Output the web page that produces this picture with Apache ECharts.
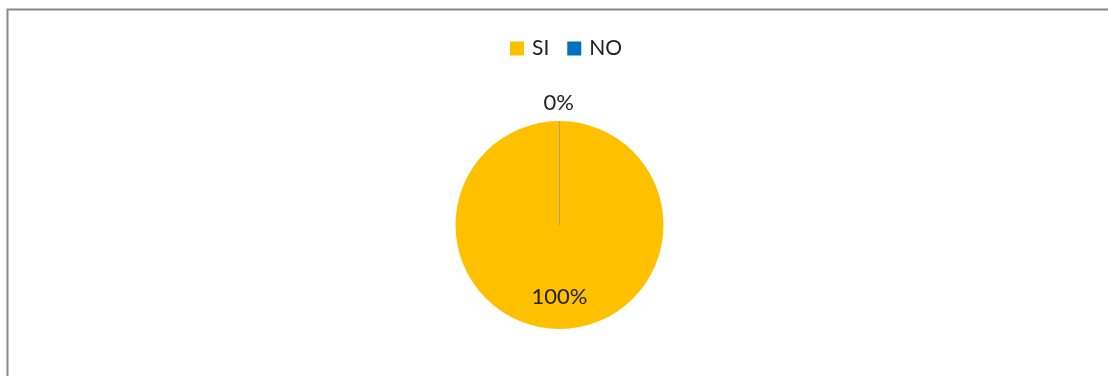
<!DOCTYPE html>
<html><head><meta charset="utf-8">
<script src="https://cdn.jsdelivr.net/npm/echarts@6/dist/echarts.min.js"></script>
<style>html,body{margin:0;padding:0;background:#fff}#c{width:1108px;height:376px}</style>
</head><body><div id="c"></div>
<script>
const categories = ['SI', 'NO'];
const values = [100, 0];
const colors = ['#FFC000', '#0070C0'];
const chart = echarts.init(document.getElementById('c'));
const font = 'Lato';
chart.setOption({
  animation: false,
  graphic: [{type:'rect', shape:{x:7.5,y:9.5,width:1200,height:500}, style:{fill:'none', stroke:'#888', lineWidth:2}}],
  legend: {
    top: 33, left: 505, itemWidth: 14, itemHeight: 14, itemGap: 18, icon: 'rect',
    itemStyle: {borderWidth: 0},
    textStyle: {fontFamily: font, fontSize: 21, color: '#222', padding: [0, 0, 0, 3]},
    data: categories
  },
  series: [{
    type: 'pie', center: [559.5, 225], radius: 104, startAngle: 90,
    avoidLabelOverlap: false, minShowLabelAngle: -1, stillShowZeroSum: true,
    data: categories.map((n, i) => ({
      name: n, value: values[i],
      itemStyle: {color: colors[i], borderColor: i === 1 ? '#b0a080' : 'transparent', borderWidth: i === 1 ? 1 : 0},
      label: i === 0
        ? {show: true, position: 'inside', offset: [0, 17]}
        : {show: true, position: 'outside', distanceToLabelLine: 0, offset: [-16, 0]},
      labelLine: {show: false, length: 18, length2: 0}
    })),
    label: {
      formatter: p => Math.round(p.percent) + '%',
      fontFamily: font, fontSize: 22, color: '#222'
    }
  }]
});
</script></body></html>
